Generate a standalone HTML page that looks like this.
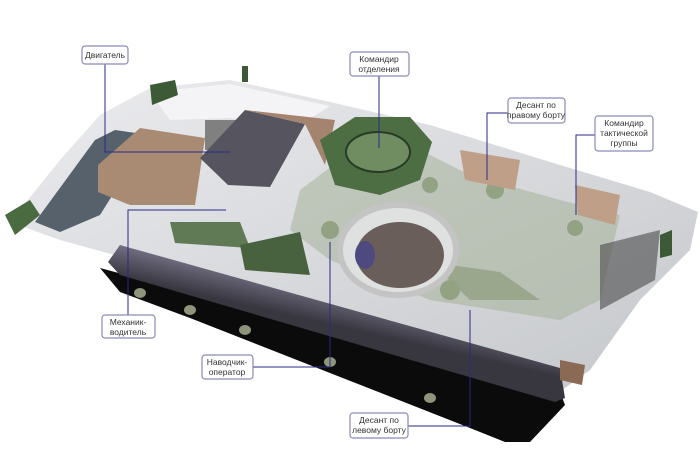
<!DOCTYPE html>
<html><head><meta charset="utf-8"><style>
html,body{margin:0;padding:0;background:#fff}
svg{display:block}
text{font-family:"Liberation Sans",sans-serif;font-size:8.5px;fill:#333}
</style></head><body>
<svg width="700" height="467" viewBox="0 0 700 467">
<defs>
<linearGradient id="hull" x1="0" y1="0" x2="1" y2="1">
<stop offset="0" stop-color="#ececef"/><stop offset="1" stop-color="#c4c7ca"/>
</linearGradient>
<linearGradient id="tube" gradientUnits="userSpaceOnUse" x1="340" y1="290" x2="332" y2="325">
<stop offset="0" stop-color="#7a788c"/><stop offset="1" stop-color="#38363f"/>
</linearGradient>
</defs>
<polygon points="100,268 560,392 565,405 530,442 505,442 470,428 190,318 120,292" fill="#0b0b0b"/>
<polygon points="10,222 60,160 100,115 150,88 230,80 330,102 430,125 560,165 650,192 698,212 690,250 640,300 590,370 555,395 140,262 60,240" fill="url(#hull)"/>
<polygon points="120,245 560,368 565,398 555,402 120,275 108,262" fill="url(#tube)"/>
<polygon points="150,92 230,84 330,106 300,125 230,118 170,120" fill="#f4f4f6"/>
<polygon points="35,222 95,140 115,130 150,135 100,215 60,232" fill="#56616c"/>
<polygon points="98,165 140,128 205,138 195,205 130,205 98,192" fill="#a98a73"/>
<polygon points="205,120 240,120 230,150 205,150" fill="#808080"/>
<polygon points="200,158 245,110 305,124 270,187 228,185" fill="#55545f"/>
<polygon points="245,110 335,120 325,165 305,124" fill="#a4846e"/>
<polygon points="300,190 340,160 420,150 470,175 560,200 620,215 600,300 560,320 430,300 330,260 290,230" fill="#a6b39a" opacity="0.55"/>
<polygon points="170,222 240,222 250,248 175,243" fill="#617a56"/>
<polygon points="240,245 300,232 310,275 245,270" fill="#48623f"/>
<polygon points="430,262 500,272 540,300 470,300" fill="#9aa78c"/>
<polygon points="320,140 355,117 410,117 432,142 420,180 380,195 335,185" fill="#4d6d43"/>
<ellipse cx="378" cy="152" rx="32" ry="20" fill="#6f8d60" stroke="#2a3a28" stroke-width="2"/>
<ellipse cx="398" cy="250" rx="58" ry="45" fill="#dfe0e0" stroke="#c4c4c4" stroke-width="6"/>
<ellipse cx="400" cy="255" rx="44" ry="33" fill="#6a5e5a"/>
<ellipse cx="365" cy="255" rx="10" ry="14" fill="#4e4a80"/>
<g fill="#93a283"><circle cx="450" cy="290" r="10"/><circle cx="495" cy="190" r="9"/><circle cx="330" cy="230" r="9"/><circle cx="430" cy="185" r="8"/><circle cx="575" cy="228" r="8"/></g>
<polygon points="460,150 520,160 515,190 465,180" fill="#bf9f87"/>
<polygon points="575,185 620,195 615,225 578,215" fill="#bf9f87"/>
<polygon points="600,245 660,230 655,280 600,310" fill="#4a4a4a" opacity="0.6"/>
<polygon points="560,360 585,365 582,385 560,380" fill="#8a6a55"/>
<polygon points="660,235 672,230 672,255 660,258" fill="#3c5a36"/>
<polygon points="5,215 30,200 40,215 15,235" fill="#4a6a40"/>
<polygon points="150,85 175,80 178,95 152,105" fill="#3c5a36"/>
<rect x="242" y="66" width="6" height="16" fill="#3c5a36"/>
<g fill="#8f957a"><ellipse cx="140" cy="293" rx="6" ry="5"/><ellipse cx="190" cy="310" rx="6" ry="5"/><ellipse cx="245" cy="330" rx="6" ry="5"/><ellipse cx="330" cy="362" rx="6" ry="5"/><ellipse cx="430" cy="398" rx="6" ry="5"/></g>
<g fill="none" stroke="#2a2a88" stroke-width="1">
<polyline points="105,64 105,152 230,152"/>
<polyline points="379,76 379,148"/>
<polyline points="508,113 487,113 487,180"/>
<polyline points="595,135 576,135 576,215"/>
<polyline points="128,316 128,210 226,210"/>
<polyline points="253,367 330,367 330,242"/>
<polyline points="408,426 470,426 470,310"/>
</g>
<g fill="#fff" stroke="#8a8ab8" stroke-width="1.2">
<rect x="82" y="46" width="46" height="18" rx="3"/>
<rect x="350" y="52" width="59" height="24" rx="3"/>
<rect x="508" y="98" width="57" height="25" rx="3"/>
<rect x="595" y="116" width="58" height="35" rx="3"/>
<rect x="102" y="315" width="53" height="23" rx="3"/>
<rect x="202" y="355" width="51" height="24" rx="3"/>
<rect x="350" y="413" width="58" height="25" rx="3"/>
</g>
<g text-anchor="middle">
<text x="105" y="58">Двигатель</text>
<text x="379" y="62">Командир</text><text x="379" y="72">отделения</text>
<text x="536" y="108">Десант по</text><text x="536" y="118">правому борту</text>
<text x="624" y="126">Командир</text><text x="624" y="136">тактической</text><text x="624" y="146">группы</text>
<text x="128" y="325">Механик-</text><text x="128" y="335">водитель</text>
<text x="227" y="365">Наводчик-</text><text x="227" y="375">оператор</text>
<text x="379" y="423">Десант по</text><text x="379" y="433">левому борту</text>
</g>
</svg>
</body></html>
